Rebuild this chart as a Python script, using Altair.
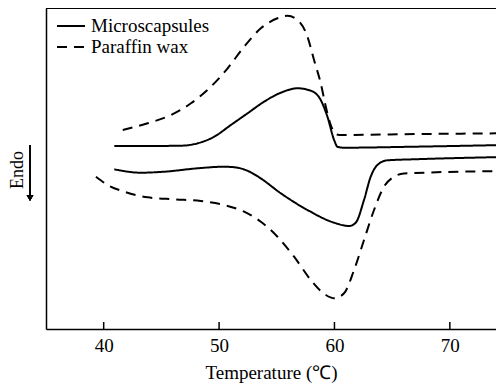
import altair as alt
import pandas as pd

FONT = "Liberation Serif"

# Temperature (°C) and relative heat-flow values
mc_heat_T = [40.92, 43.81, 46.69, 48.14, 49.58, 51.02, 52.47, 53.90, 55.35, 56.80, 57.95, 58.81, 59.39, 59.97, 60.26, 60.83, 66.89, 74.74]
mc_heat_v = [183, 183, 183.3, 185.7, 192.3, 204, 215.7, 227.3, 236.3, 240.7, 238.3, 229, 212.3, 189, 182.3, 181.3, 182.3, 184]

pw_heat_T = [41.65, 43.81, 45.83, 47.56, 49.29, 50.74, 52.17, 53.62, 55.06, 55.93, 56.80, 57.66, 58.23, 58.81, 59.25, 59.68, 60.03, 60.40, 67.47, 74.74]
pw_heat_v = [199, 205.7, 214, 225.7, 242.3, 260.7, 282.3, 300.7, 310.7, 313.3, 309, 292.3, 269, 245.7, 222.3, 204, 196, 194, 195, 195.7]

mc_cool_T = [40.92, 43.23, 45.25, 48.14, 50.44, 51.60, 52.60, 53.50, 55.35, 57.66, 59.97, 61.26, 61.84, 62.56, 63.14, 63.72, 64.59, 66.89, 74.74]
mc_cool_v = [159.7, 156.3, 157.3, 160.7, 162.3, 161.3, 157.5, 151.5, 135.7, 119, 106.3, 103, 106.3, 129, 152.3, 164, 168.7, 169.7, 172]

pw_cool_T = [39.33, 40.35, 41.78, 43.81, 46.11, 48.42, 50.44, 52.17, 53.62, 55.06, 56.50, 57.95, 59.25, 59.97, 60.83, 61.70, 62.56, 63.43, 64.29, 65.16, 66.03, 74.74]
pw_cool_v = [152.3, 144, 137.3, 131.7, 129.7, 128, 124, 117.3, 107.3, 92.3, 72.3, 49, 34, 30.7, 35.7, 59, 89, 119, 142.3, 152.3, 155.5, 158]

samples = ["Microscapsules", "Paraffin wax"]
x_ticks = [40, 50, 60, 70]

rows = []
for name, sample, T, v in [
    ("mc_heat", samples[0], mc_heat_T, mc_heat_v),
    ("pw_heat", samples[1], pw_heat_T, pw_heat_v),
    ("mc_cool", samples[0], mc_cool_T, mc_cool_v),
    ("pw_cool", samples[1], pw_cool_T, pw_cool_v),
]:
    for t, val in zip(T, v):
        rows.append({"T": t, "v": val, "curve": name, "sample": sample})
df = pd.DataFrame(rows)

W, H = 450, 321
xscale = alt.Scale(domain=[35, 74], nice=False, zero=False)
yscale = alt.Scale(domain=[0, 321], nice=False, zero=False)

dash_scale = alt.Scale(domain=samples, range=[[1, 0], [10, 7]])

lines = alt.Chart(df).mark_line(
    interpolate="monotone", color="black", strokeWidth=2, clip=True
).encode(
    x=alt.X("T:Q", scale=xscale,
            axis=alt.Axis(title="Temperature (℃)", values=x_ticks, tickSize=0,
                          labelPadding=7, grid=False, domainColor="black",
                          domainWidth=1.5, labelFont=FONT, labelFontSize=19,
                          labelColor="black", titleFont=FONT, titleFontSize=19,
                          titleFontWeight="normal", titleColor="black",
                          titlePadding=8)),
    y=alt.Y("v:Q", scale=yscale,
            axis=alt.Axis(title=None, labels=False, ticks=False, grid=False,
                          domainColor="black", domainWidth=1.5)),
    strokeDash=alt.StrokeDash("sample:N", scale=dash_scale, legend=None),
    detail="curve:N",
)

# inward ticks on the x axis
tick_df = pd.DataFrame({"T": x_ticks, "v0": [0] * 4, "v1": [7] * 4})
ticks = alt.Chart(tick_df).mark_rule(color="black", strokeWidth=1.5).encode(
    x=alt.X("T:Q", scale=xscale), y=alt.Y("v0:Q", scale=yscale), y2="v1:Q"
)

# top frame line
top = alt.Chart(tick_df).mark_rule(color="black", strokeWidth=1.5).encode(
    x=alt.value(0), x2=alt.value(W), y=alt.value(0)
)

# legend drawn inside the plot
leg_df = pd.DataFrame({"sample": samples, "y": [18, 39]})
leg_lines = alt.Chart(leg_df).mark_rule(color="black", strokeWidth=2).encode(
    x=alt.value(11), x2=alt.value(39), y=alt.Y("y:Q", scale=None),
    strokeDash=alt.StrokeDash("sample:N", scale=dash_scale, legend=None),
)
leg_text = alt.Chart(leg_df).mark_text(
    align="left", baseline="middle", font=FONT, fontSize=19, color="black"
).encode(x=alt.value(45), y=alt.Y("y:Q", scale=None), text="sample:N")

# "Endo" label with downward arrow
endo = alt.Chart(pd.DataFrame({"t": ["Endo"]})).mark_text(
    angle=270, font=FONT, fontSize=18, fontWeight="normal",
    color="black", align="center", baseline="middle"
).encode(x=alt.value(-28), y=alt.value(162), text="t:N")
arrow_line = alt.Chart(tick_df).mark_rule(color="black", strokeWidth=1.2).encode(
    x=alt.value(-16), y=alt.value(137), y2=alt.value(188)
)
arrow_head = alt.Chart(tick_df).mark_point(
    shape="triangle-down", filled=True, color="black", size=45, opacity=1
).encode(x=alt.value(-16), y=alt.value(190))

chart = alt.layer(
    lines, ticks, top, leg_lines, leg_text, endo, arrow_line, arrow_head
).properties(
    width=W, height=H,
    autosize=alt.AutoSizeParams(type="none"),
    padding={"left": 38, "top": 0, "right": 0, "bottom": 60},
).configure_view(stroke=None)

chart.save("out.html", embed_options={"renderer": "svg", "actions": False})
